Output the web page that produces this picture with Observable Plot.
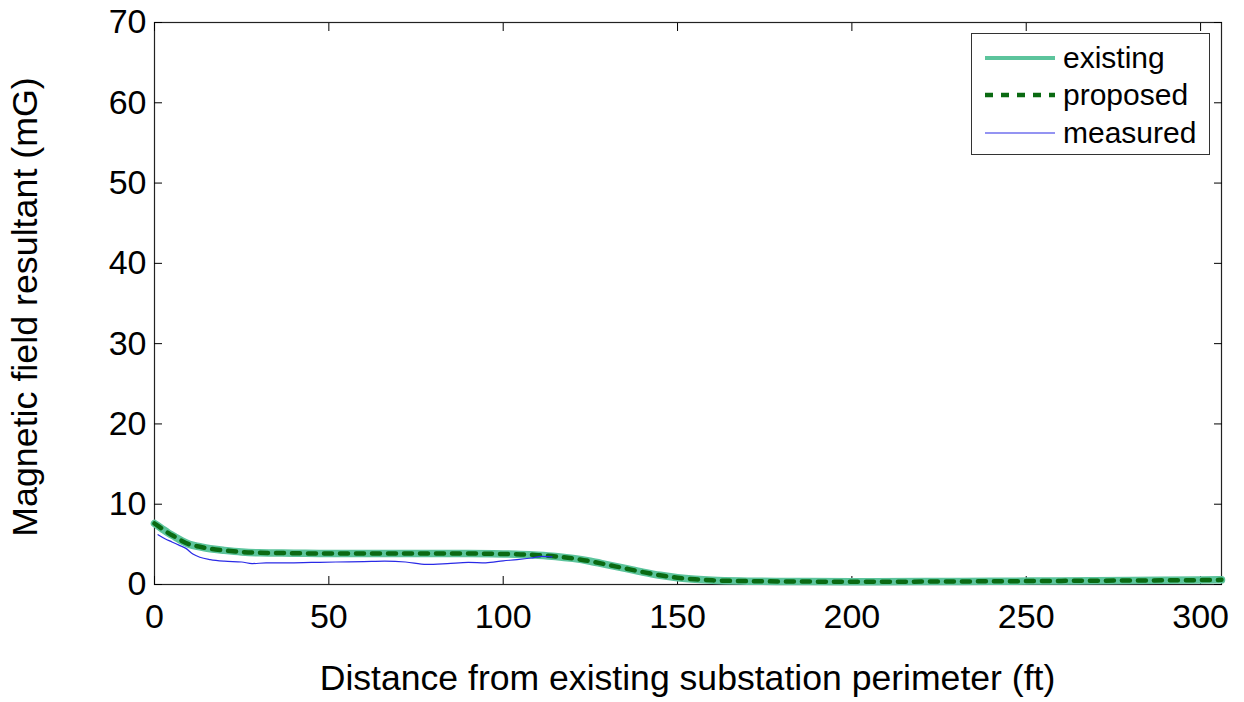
<!DOCTYPE html>
<html>
<head>
<meta charset="utf-8">
<script src="https://cdn.jsdelivr.net/npm/d3@7"></script>
<script src="https://cdn.jsdelivr.net/npm/@observablehq/plot@0.6"></script>
<style>
  html, body { margin: 0; padding: 0; background: #fff; }
  #wrap { position: relative; width: 1244px; height: 702px; font-family: "Liberation Sans", Arial, sans-serif; }
  #legend { position: absolute; left: 971px; top: 33px; width: 239px; height: 122px; border: 1px solid #333; background: #fff; box-sizing: border-box; }
  #legend .row { position: absolute; left: 0; height: 36px; display: flex; align-items: center; }
  #legend svg { width: 72px; height: 20px; margin-left: 13px; }
  #legend span { font-size: 30px; color: #000; margin-left: 6px; line-height: 1; }
</style>
</head>
<body>
<div id="wrap"></div>
<script>
// Model distances (ft) and field values (mG)
const modelDistance = [0, 2, 4, 6, 8, 10, 13, 16, 20, 25, 30, 40, 50, 60, 70, 80, 90, 100, 105, 110, 115, 120, 125, 130, 135, 140, 145, 150, 155, 160, 170, 180, 200, 220, 240, 260, 280, 300, 306];
const existing = [7.6, 7.0, 6.4, 5.9, 5.4, 5.0, 4.7, 4.45, 4.25, 4.05, 3.95, 3.9, 3.85, 3.85, 3.85, 3.85, 3.85, 3.8, 3.75, 3.65, 3.5, 3.25, 2.9, 2.45, 2.0, 1.55, 1.15, 0.85, 0.65, 0.52, 0.42, 0.38, 0.35, 0.36, 0.4, 0.45, 0.5, 0.55, 0.58];
const proposed = [7.6, 7.0, 6.4, 5.9, 5.4, 5.0, 4.7, 4.45, 4.25, 4.05, 3.95, 3.9, 3.85, 3.85, 3.85, 3.85, 3.85, 3.8, 3.75, 3.65, 3.5, 3.25, 2.9, 2.45, 2.0, 1.55, 1.15, 0.85, 0.65, 0.52, 0.42, 0.38, 0.35, 0.36, 0.4, 0.45, 0.5, 0.55, 0.58];
const measuredDistance = [1, 3, 5, 7, 9, 11, 13, 16, 20, 25, 28, 32, 38, 45, 52, 60, 66, 72, 78, 84, 90, 95, 100, 104, 108, 111, 114];
const measured = [6.2, 5.7, 5.3, 4.9, 4.5, 3.8, 3.4, 3.1, 2.9, 2.8, 2.6, 2.7, 2.7, 2.75, 2.8, 2.85, 2.9, 2.8, 2.5, 2.6, 2.75, 2.7, 2.95, 3.1, 3.3, 3.5, 3.45];
const xTicks = [0, 50, 100, 150, 200, 250, 300];
const yTicks = [0, 10, 20, 30, 40, 50, 60, 70];
const seriesNames = ["existing", "proposed", "measured"];
const seriesColors = ["#5cc49c", "#0a6a12", "#2a2ae6"];

const existingData = modelDistance.map((d, i) => ({d, v: existing[i]}));
const proposedData = modelDistance.map((d, i) => ({d, v: proposed[i]}));
const measuredData = measuredDistance.map((d, i) => ({d, v: measured[i]}));

const chart = Plot.plot({
  width: 1244,
  height: 702,
  marginLeft: 154,
  marginRight: 23,
  marginTop: 22,
  marginBottom: 118,
  style: {fontFamily: "'Liberation Sans', Arial, sans-serif", fontSize: "34px", background: "#fff", color: "#000"},
  x: {domain: [0, 306]},
  y: {domain: [0, 70]},
  marks: [
    Plot.frame({stroke: "#222", strokeWidth: 1.2}),
    Plot.axisX({ticks: xTicks, tickSize: -8, tickPadding: 27, fontSize: 34, label: null}),
    Plot.axisX({ticks: xTicks, anchor: "top", tickSize: -8, tickFormat: () => "", label: null}),
    Plot.axisY({ticks: yTicks, tickSize: -8, tickPadding: 16, fontSize: 34, label: null}),
    Plot.axisY({ticks: yTicks, anchor: "right", tickSize: -8, tickFormat: () => "", label: null}),
    Plot.line(existingData, {x: "d", y: "v", stroke: seriesColors[0], strokeWidth: 7.5, curve: "monotone-x"}),
    Plot.line(proposedData, {x: "d", y: "v", stroke: seriesColors[1], strokeWidth: 4.5, strokeDasharray: "8,8", curve: "monotone-x"}),
    Plot.line(measuredData, {x: "d", y: "v", stroke: seriesColors[2], strokeWidth: 1.2, curve: "monotone-x"})
  ]
});

const wrap = document.getElementById("wrap");
wrap.appendChild(chart);

// Axis titles
const xt = document.createElement("div");
xt.textContent = "Distance from existing substation perimeter (ft)";
Object.assign(xt.style, {position: "absolute", left: "0px", width: "1375px", top: "661px", textAlign: "center", fontSize: "35.6px", lineHeight: "1"});
wrap.appendChild(xt);
const yt = document.createElement("div");
yt.textContent = "Magnetic field resultant (mG)";
Object.assign(yt.style, {position: "absolute", left: "25px", top: "307px", fontSize: "35.8px", whiteSpace: "nowrap", transform: "translate(-50%, -50%) rotate(-90deg)"});
wrap.appendChild(yt);

// Legend
const legend = document.createElement("div");
legend.id = "legend";
const rowTops = [6, 43, 81];
seriesNames.forEach((name, i) => {
  const row = document.createElement("div");
  row.className = "row";
  row.style.top = rowTops[i] + "px";
  const w = [4, 4.5, 1.2][i];
  const dash = i === 1 ? 'stroke-dasharray="8,8"' : "";
  row.innerHTML = `<svg viewBox="0 0 72 20"><line x1="0" x2="70" y1="10" y2="10" stroke="${seriesColors[i]}" stroke-width="${w}" ${dash}/></svg><span>${name}</span>`;
  legend.appendChild(row);
});
wrap.appendChild(legend);
</script>
</body>
</html>
